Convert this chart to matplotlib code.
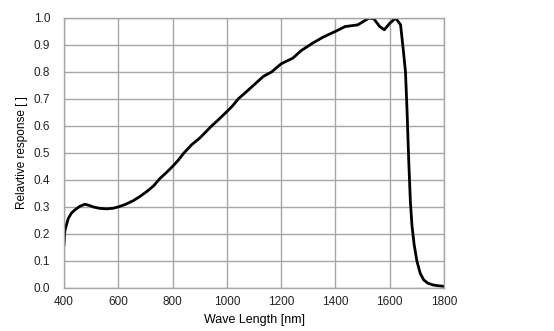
import matplotlib
matplotlib.use("Agg")
import matplotlib.pyplot as plt
import numpy as np

plt.rcParams['font.family'] = ['Liberation Sans', 'DejaVu Sans']

# spectral response samples (nm, relative)
wavelength = [400, 403, 408, 416, 428, 440, 458, 477, 492, 508, 530, 557, 580,
              600, 625, 655, 680, 705, 730, 753, 780, 800, 820, 842, 870,
              900, 944, 970, 1000, 1020, 1042, 1070, 1100, 1134, 1165, 1200,
              1243, 1274, 1317, 1355, 1400, 1436, 1482, 1500, 1523, 1541,
              1563, 1580, 1600, 1622, 1640, 1650, 1658, 1664, 1670, 1676,
              1682, 1690, 1700, 1712, 1725, 1740, 1760, 1780, 1800]
response = [0.16, 0.21, 0.23, 0.258, 0.278, 0.289, 0.302, 0.310, 0.306, 0.300,
            0.295, 0.293, 0.295, 0.300, 0.309, 0.323, 0.339, 0.357, 0.378,
            0.405, 0.430, 0.450, 0.472, 0.500, 0.530, 0.555, 0.600, 0.624,
            0.653, 0.673, 0.700, 0.725, 0.752, 0.783, 0.800, 0.830, 0.851,
            0.879, 0.907, 0.929, 0.950, 0.968, 0.974, 0.985, 0.999, 0.997,
            0.968, 0.956, 0.980, 0.999, 0.974, 0.88, 0.80, 0.65, 0.47, 0.32,
            0.23, 0.16, 0.10, 0.055, 0.030, 0.018, 0.011, 0.008, 0.006]

xticks = [400, 600, 800, 1000, 1200, 1400, 1600, 1800]
yticks = [0.0, 0.1, 0.2, 0.3, 0.4, 0.5, 0.6, 0.7, 0.8, 0.9, 1.0]

fig = plt.figure(figsize=(5.54, 3.31), dpi=100)
ax = fig.add_axes([0.1155, 0.130, 0.686, 0.816])

ax.plot(wavelength, response, color='black', linewidth=2.0, solid_joinstyle='round')

ax.set_xlim(400, 1800)
ax.set_ylim(0, 1.0)
ax.set_xticks(xticks)
ax.set_yticks(yticks)
ax.set_yticklabels([f"{v:.1f}" for v in yticks])
ax.grid(True, color='#a6a6a6', linewidth=1.0)
ax.set_axisbelow(True)
for s in ax.spines.values():
    s.set_color('#a6a6a6')
    s.set_linewidth(1.0)
ax.tick_params(length=0, labelsize=8.5, colors='#222222')
ax.tick_params(axis='y', pad=10)
ax.tick_params(axis='x', pad=6)

ax.set_xlabel('Wave Length [nm]', fontsize=9, labelpad=4)
ax.set_ylabel('Relavtive response [ ]', fontsize=8.5)
ax.yaxis.set_label_coords(-0.094, 0.5)

fig.savefig('out.png', dpi=100)
